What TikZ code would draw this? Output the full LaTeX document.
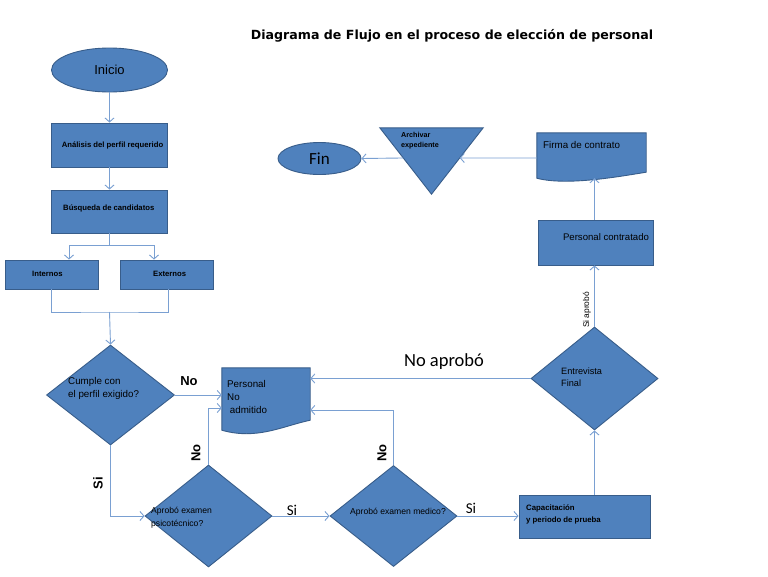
\documentclass[tikz,border=0pt]{standalone}
\usepackage{fontspec}
\setmainfont{Liberation Sans}
\newfontfamily\calib{Carlito}
\newfontfamily\dejav{DejaVu Sans}
\usetikzlibrary{shapes.geometric,arrows.meta,calc}
\definecolor{blu}{RGB}{79,129,189}
\definecolor{bord}{RGB}{56,93,138}
\definecolor{lnk}{RGB}{122,160,210}
\begin{document}
\begin{tikzpicture}[x=1pt,y=-1pt,
  shp/.style={fill=blu, draw=bord, line width=0.9pt, inner sep=0pt},
  ghost/.style={inner sep=0pt},
  conn/.style={draw=lnk, line width=0.9pt, -{Straight Barb[length=4pt,width=9pt]}},
  lnkline/.style={draw=lnk, line width=0.9pt},
  boxtxt/.style={font=\bfseries\fontsize{7.7}{10}\selectfont, align=left, inner sep=0pt},
  dtxt/.style={font=\fontsize{9.8}{13}\selectfont, align=left, inner sep=0pt},
  bigl/.style={font=\bfseries\fontsize{13}{14}\selectfont, inner sep=0pt},
  call/.style={font=\calib\fontsize{15}{16}\selectfont, inner sep=0pt}]
\fill[white] (0,0) rectangle (768,576);
\useasboundingbox (0,0) rectangle (768,576);

% title
\node[font=\dejav\bfseries\fontsize{12.6}{14}\selectfont, inner sep=0pt] (title) at (452,36)
  {Diagrama de Flujo en el proceso de elección de personal};

% left column
\node[shp, ellipse, minimum width=116pt, minimum height=44pt, font=\fontsize{13}{15}\selectfont] (inicio) at (109.5,70) {Inicio};
\node[shp, rectangle, minimum width=116pt, minimum height=44pt] (analisis) at (109.5,145) {};
\node[boxtxt] (tanalisis) at (112.5,145) {Análisis del perfil requerido};
\node[shp, rectangle, minimum width=116pt, minimum height=43pt] (busqueda) at (109.5,211.5) {};
\node[boxtxt, anchor=west] (tbusqueda) at (63,208) {Búsqueda de candidatos};
\node[shp, rectangle, minimum width=93pt, minimum height=29pt] (internos) at (51.5,274.5) {};
\node[boxtxt, anchor=west] (tinternos) at (32,274) {Internos};
\node[shp, rectangle, minimum width=93pt, minimum height=29pt] (externos) at (166.5,274.5) {};
\node[boxtxt, anchor=west] (texternos) at (153,274) {Externos};

\draw[conn] (inicio.south) -- (analisis.north);
\draw[conn] (analisis.south) -- (busqueda.north);
\coordinate (bj) at (109.5,245);
\draw[lnkline] (busqueda.south) -- (bj);
\draw[conn] (bj) -| ([xshift=17.5pt]internos.north);
\draw[conn] (bj) -| ([xshift=-12.5pt]externos.north);
\coordinate (jn) at (109.5,312);
\draw[lnkline] (internos.south) |- (jn) -| ([xshift=1.5pt]externos.south);

% decisions
\node[shp, diamond, minimum width=128pt, minimum height=100pt] (cumple) at (110.5,395) {};
\node[dtxt, anchor=north west] (tcumple) at (68,377) {Cumple con\\el perfil exigido?};
\draw[conn] (jn) -- (cumple.north);

\node[ghost, minimum width=88pt, minimum height=62pt] (pna) at (266,399) {};
\path[shp] (pna.north west) -- (pna.north east) -- ($(pna.south east)+(0,-10)$)
  .. controls ($(pna.south east)+(-28,-4)$) and ($(pna.south west)+(35,10)$) .. (pna.south west) -- cycle;
\node[dtxt, anchor=north west] (tpna) at (227,380) {Personal\\No\\\ admitido};

\node[shp, diamond, minimum width=127pt, minimum height=102pt] (psico) at (208.5,516) {};
\node[font=\fontsize{8.6}{12.5}\selectfont, align=left, inner sep=0pt, anchor=north west] (tpsico) at (151,507) {Aprobó examen\\psicotécnico?};
\node[shp, diamond, minimum width=127pt, minimum height=101pt] (medico) at (393.5,516) {};
\node[font=\fontsize{8.6}{10}\selectfont, inner sep=0pt] (tmedico) at (398,512) {Aprobó examen medico?};
\node[shp, rectangle, minimum width=131pt, minimum height=43pt] (cap) at (584.5,516.5) {};
\node[boxtxt, font=\bfseries\fontsize{7.8}{11.5}\selectfont, anchor=north west] (tcap) at (526,505) {Capacitación\\y periodo de prueba};
\node[shp, diamond, minimum width=127pt, minimum height=103pt] (entrevista) at (594.5,378.5) {};
\node[dtxt, anchor=north west, font=\fontsize{9.2}{12}\selectfont] (tentre) at (561,368) {Entrevista\\Final};

\node[shp, rectangle, minimum width=115pt, minimum height=45pt] (contratado) at (595.5,242.5) {};
\node[font=\fontsize{9.6}{11}\selectfont, inner sep=0pt] (tcontratado) at (606,237) {Personal contratado};

\node[ghost, minimum width=109pt, minimum height=45pt] (firma) at (591.5,155.5) {};
\path[shp] (firma.north west) -- (firma.north east) -- ($(firma.south east)+(0,-6)$)
  .. controls ($(firma.south east)+(-25,-2)$) and ($(firma.south west)+(30,8)$) .. (firma.south west) -- cycle;
\node[font=\fontsize{9.8}{11}\selectfont, inner sep=0pt, anchor=north west] (tfirma) at (543,141) {Firma de contrato};

\node[ghost, minimum width=103pt, minimum height=66pt] (arch) at (431.5,161) {};
\path[shp] (arch.north west) -- (arch.north east) -- (arch.south) -- cycle;
\node[boxtxt, font=\bfseries\fontsize{7.2}{10}\selectfont, anchor=north west] (tarch) at (401,132) {Archivar\\expediente};
\coordinate (archR) at ($(arch.north east)!0.4545!(arch.south)$);
\coordinate (archL) at ($(arch.north west)!0.4545!(arch.south)$);

\node[shp, ellipse, minimum width=83pt, minimum height=32pt, font=\calib\fontsize{17}{18}\selectfont] (fin) at (319.5,158.5) {Fin};

% connectors
\draw[conn] (cumple.east) -- (cumple.east -| pna.west);
\node[bigl] (lno1) at (189,381) {No};
\draw[conn] (cumple.south) |- (psico.west);
\node[bigl, rotate=90] (lsi1) at (98,483) {Si};
\draw[conn] (psico.north) |- ([yshift=-9pt]pna.west);
\node[bigl, rotate=90] (lno2) at (196,453) {No};
\draw[conn] (psico.east) -- (medico.west);
\node[call] (lsi2) at (292,510) {Si};
\draw[conn] (medico.north) |- ([yshift=-11pt]pna.east);
\node[bigl, rotate=90] (lno3) at (382,453) {No};
\draw[conn] (medico.east) -- (cap.west |- medico.east);
\node[call] (lsi3) at (471,508) {Si};
\draw[conn] (entrevista.south |- cap.north) -- (entrevista.south);
\draw[conn] (entrevista.west) -- (entrevista.west -| pna.east);
\node[call, font=\calib\fontsize{18.5}{20}\selectfont] (lnoap) at (444,362) {No aprobó};
\draw[conn] (entrevista.north) -- (entrevista.north |- contratado.south);
\node[font=\fontsize{8.4}{10}\selectfont, inner sep=0pt, rotate=90] (lsiap) at (587,310) {Si aprobó};
\draw[conn] (contratado.north -| entrevista.north) -- (entrevista.north |- firma.south);
\draw[conn] ([yshift=-2.5pt]firma.west) -- (archR);
\draw[conn] (archL) -- (fin.east);
\end{tikzpicture}
\end{document}
